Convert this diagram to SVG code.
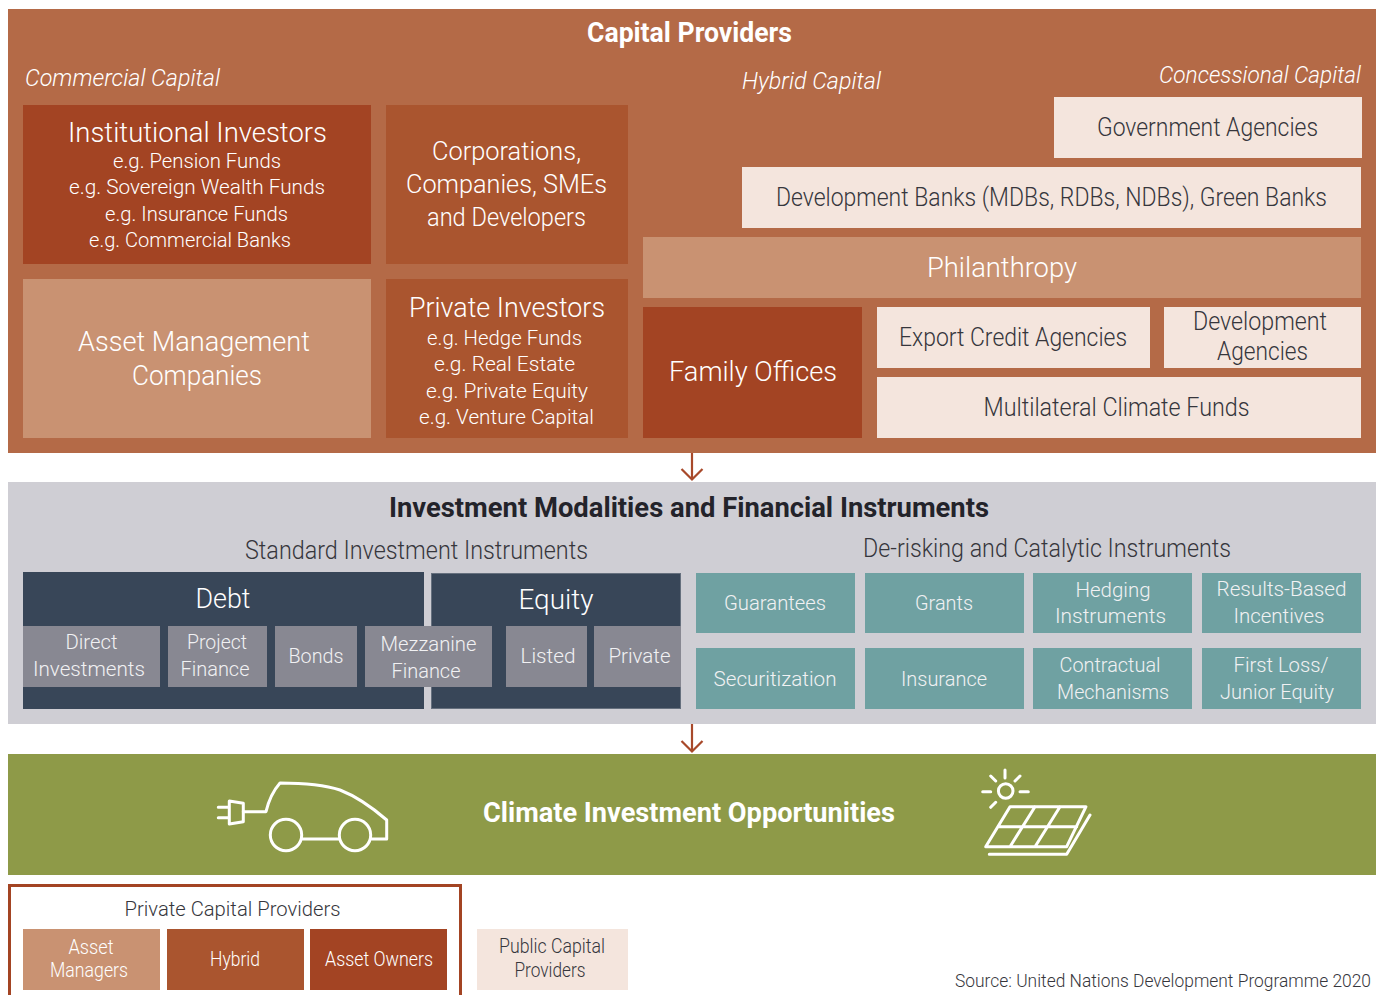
<svg xmlns="http://www.w3.org/2000/svg" width="1377" height="995" viewBox="0 0 1377 995">
<style>
text{font-family:Roboto,"Liberation Sans",sans-serif;font-weight:300;text-anchor:middle;fill:#fff}
.t{font-weight:700;font-size:27px}
.i{font-style:italic;font-size:24px;text-anchor:start}
.l{font-size:27px}.m{font-size:25px}.s{font-size:21px}.xs{font-size:19.5px}
.src{font-size:18px}
.dk{fill:#36363c}.lt{fill:#f1f1f3}
.o{fill:#b46a47}.r1{fill:#a34423}.r2{fill:#aa552f}.r3{fill:#c99272}.p{fill:#f4e5dd}.g{fill:#888892}.n{fill:#384658}.tl{fill:#6fa1a2}
.ic{fill:none;stroke:#fff;stroke-width:3;stroke-linecap:round;stroke-linejoin:round}
.ar{fill:none;stroke:#a8492a;stroke-width:2.2}
</style>
<g id="capital-providers"><rect class="o" x="8" y="9" width="1368" height="444"/>
<text class="t" x="689.5" y="42" textLength="205" lengthAdjust="spacingAndGlyphs">Capital Providers</text>
<text class="i" x="25" y="86" textLength="195" lengthAdjust="spacingAndGlyphs">Commercial Capital</text>
<text class="i" x="742" y="89" textLength="139" lengthAdjust="spacingAndGlyphs">Hybrid Capital</text>
<text class="i" x="1159" y="83" textLength="202" lengthAdjust="spacingAndGlyphs">Concessional Capital</text></g>
<g id="institutional-investors"><rect class="r1" x="23" y="105" width="348" height="159"/>
<text class="l" x="197.5" y="142" textLength="259" lengthAdjust="spacingAndGlyphs">Institutional Investors</text>
<text class="s" x="197" y="168" textLength="168" lengthAdjust="spacingAndGlyphs">e.g. Pension Funds</text>
<text class="s" x="197" y="194" textLength="256" lengthAdjust="spacingAndGlyphs">e.g. Sovereign Wealth Funds</text>
<text class="s" x="196.5" y="221" textLength="183" lengthAdjust="spacingAndGlyphs">e.g. Insurance Funds</text>
<text class="s" x="190" y="247" textLength="202" lengthAdjust="spacingAndGlyphs">e.g. Commercial Banks</text></g>
<g id="corporations"><rect class="r2" x="386" y="105" width="242" height="159"/>
<text class="m" x="506.5" y="160" textLength="149" lengthAdjust="spacingAndGlyphs">Corporations,</text>
<text class="m" x="506.5" y="193" textLength="201" lengthAdjust="spacingAndGlyphs">Companies, SMEs</text>
<text class="m" x="506.5" y="226" textLength="159" lengthAdjust="spacingAndGlyphs">and Developers</text></g>
<g id="asset-management"><rect class="r3" x="23" y="279" width="348" height="159"/>
<text class="l" x="194" y="351" textLength="232" lengthAdjust="spacingAndGlyphs">Asset Management</text>
<text class="l" x="197" y="385" textLength="130" lengthAdjust="spacingAndGlyphs">Companies</text></g>
<g id="private-investors"><rect class="r2" x="386" y="279" width="242" height="159"/>
<text class="l" x="507" y="317" textLength="196" lengthAdjust="spacingAndGlyphs">Private Investors</text>
<text class="s" x="504.5" y="345" textLength="155" lengthAdjust="spacingAndGlyphs">e.g. Hedge Funds</text>
<text class="s" x="504.5" y="371" textLength="141" lengthAdjust="spacingAndGlyphs">e.g. Real Estate</text>
<text class="s" x="507" y="398" textLength="162" lengthAdjust="spacingAndGlyphs">e.g. Private Equity</text>
<text class="s" x="506.5" y="424" textLength="175" lengthAdjust="spacingAndGlyphs">e.g. Venture Capital</text></g>
<g id="government-agencies"><rect class="p" x="1054" y="97" width="308" height="61"/>
<text class="m dk" x="1207.5" y="136" textLength="221" lengthAdjust="spacingAndGlyphs">Government Agencies</text></g>
<g id="development-banks"><rect class="p" x="742" y="167" width="619" height="61"/>
<text class="m dk" x="1051.5" y="206" textLength="551" lengthAdjust="spacingAndGlyphs">Development Banks (MDBs, RDBs, NDBs), Green Banks</text></g>
<g id="philanthropy"><rect class="r3" x="643" y="237" width="718" height="61"/>
<text class="l" x="1002" y="277" textLength="150" lengthAdjust="spacingAndGlyphs">Philanthropy</text></g>
<g id="family-offices"><rect class="r1" x="643" y="307" width="219" height="131"/>
<text class="l" x="753" y="381" textLength="168" lengthAdjust="spacingAndGlyphs">Family Offices</text></g>
<g id="export-credit"><rect class="p" x="877" y="307" width="273" height="61"/>
<text class="m dk" x="1013" y="346" textLength="228" lengthAdjust="spacingAndGlyphs">Export Credit Agencies</text></g>
<g id="development-agencies"><rect class="p" x="1164" y="307" width="197" height="61"/>
<text class="m dk" x="1260" y="330" textLength="134" lengthAdjust="spacingAndGlyphs">Development</text>
<text class="m dk" x="1262.5" y="360" textLength="91" lengthAdjust="spacingAndGlyphs">Agencies</text></g>
<g id="multilateral"><rect class="p" x="877" y="377" width="484" height="61"/>
<text class="m dk" x="1116.5" y="416" textLength="266" lengthAdjust="spacingAndGlyphs">Multilateral Climate Funds</text></g>

<g id="investment-modalities"><rect x="8" y="482" width="1368" height="242" fill="#cfced4"/>
<text class="t dk" x="689" y="517" textLength="600" lengthAdjust="spacingAndGlyphs" style="fill:#23232a">Investment Modalities and Financial Instruments</text>
<text class="m dk" x="416.5" y="559" textLength="343" lengthAdjust="spacingAndGlyphs">Standard Investment Instruments</text>
<text class="m dk" x="1047" y="557" textLength="368" lengthAdjust="spacingAndGlyphs">De-risking and Catalytic Instruments</text></g>
<g id="debt"><rect class="n" x="23" y="572" width="401" height="137"/>
<text class="l" x="223" y="608" textLength="55" lengthAdjust="spacingAndGlyphs">Debt</text></g>
<g id="equity"><rect class="n" x="431.5" y="573.5" width="249" height="135" stroke="#66707e" stroke-width="1"/>
<text class="l" x="556" y="609" textLength="75" lengthAdjust="spacingAndGlyphs">Equity</text></g>
<g id="direct"><rect class="g" x="23" y="626" width="137" height="61"/>
<text class="s lt" x="91.5" y="649" textLength="52" lengthAdjust="spacingAndGlyphs">Direct</text>
<text class="s lt" x="89" y="676" textLength="112" lengthAdjust="spacingAndGlyphs">Investments</text></g>
<g id="project"><rect class="g" x="168" y="626" width="99" height="61"/>
<text class="s lt" x="217" y="649" textLength="60" lengthAdjust="spacingAndGlyphs">Project</text>
<text class="s lt" x="215" y="676" textLength="69" lengthAdjust="spacingAndGlyphs">Finance</text></g>
<g id="bonds"><rect class="g" x="275" y="626" width="82" height="61"/>
<text class="s lt" x="316" y="663" textLength="55" lengthAdjust="spacingAndGlyphs">Bonds</text></g>
<g id="mezzanine"><rect class="g" x="365" y="626" width="127" height="61"/>
<text class="s lt" x="428.5" y="651" textLength="96" lengthAdjust="spacingAndGlyphs">Mezzanine</text>
<text class="s lt" x="426" y="678" textLength="69" lengthAdjust="spacingAndGlyphs">Finance</text></g>
<g id="listed"><rect class="g" x="506" y="626" width="81" height="61"/>
<text class="s lt" x="548" y="663" textLength="55" lengthAdjust="spacingAndGlyphs">Listed</text></g>
<g id="private"><rect class="g" x="594" y="626" width="87" height="61"/>
<text class="s lt" x="639.5" y="663" textLength="62" lengthAdjust="spacingAndGlyphs">Private</text></g>
<g id="guarantees"><rect class="tl" x="696" y="573" width="159" height="60"/>
<text class="s lt" x="775" y="610" textLength="102" lengthAdjust="spacingAndGlyphs">Guarantees</text></g>
<g id="grants"><rect class="tl" x="865" y="573" width="159" height="60"/>
<text class="s lt" x="944" y="610" textLength="58" lengthAdjust="spacingAndGlyphs">Grants</text></g>
<g id="hedging"><rect class="tl" x="1033" y="573" width="159" height="60"/>
<text class="s lt" x="1113" y="597" textLength="75" lengthAdjust="spacingAndGlyphs">Hedging</text>
<text class="s lt" x="1110.5" y="623" textLength="111" lengthAdjust="spacingAndGlyphs">Instruments</text></g>
<g id="results"><rect class="tl" x="1202" y="573" width="159" height="60"/>
<text class="s lt" x="1281.5" y="596" textLength="130" lengthAdjust="spacingAndGlyphs">Results-Based</text>
<text class="s lt" x="1279" y="623" textLength="91" lengthAdjust="spacingAndGlyphs">Incentives</text></g>
<g id="securitization"><rect class="tl" x="696" y="648" width="159" height="61"/>
<text class="s lt" x="775" y="686" textLength="123" lengthAdjust="spacingAndGlyphs">Securitization</text></g>
<g id="insurance"><rect class="tl" x="865" y="648" width="159" height="61"/>
<text class="s lt" x="944" y="686" textLength="86" lengthAdjust="spacingAndGlyphs">Insurance</text></g>
<g id="contractual"><rect class="tl" x="1033" y="648" width="159" height="61"/>
<text class="s lt" x="1110" y="672" textLength="101" lengthAdjust="spacingAndGlyphs">Contractual</text>
<text class="s lt" x="1113" y="699" textLength="112" lengthAdjust="spacingAndGlyphs">Mechanisms</text></g>
<g id="first-loss"><rect class="tl" x="1202" y="648" width="159" height="61"/>
<text class="s lt" x="1281" y="672" textLength="95" lengthAdjust="spacingAndGlyphs">First Loss/</text>
<text class="s lt" x="1277" y="699" textLength="114" lengthAdjust="spacingAndGlyphs">Junior Equity</text></g>

<g id="climate-opportunities"><rect x="8" y="754" width="1368" height="121" fill="#8e9a48"/>
<text class="t" x="689" y="822" textLength="412" lengthAdjust="spacingAndGlyphs">Climate Investment Opportunities</text>
<g class="ic"><path d="M243.3 811.7H266C269 799 273 791 280 783C305 783 325 785 340 790C358 797 374 809 386.7 820V839H371.7M301.7 839H339.3"/>
<circle cx="286" cy="835" r="15.7"/><circle cx="355" cy="835" r="15.7"/>
<path d="M229.3 801L243.3 803.3V821.7L229.3 824ZM218.3 807.3H229.3M218.3 817.7H229.3"/></g>
<g class="ic"><circle cx="1005.7" cy="791" r="7.3"/>
<path d="M1005 770V778M982.7 791.7H990.7M1020 791.7H1028.3M990.7 776L995.7 781M1020 776L1015 781M995.7 802.3L990.7 807.3"/>
<path d="M1010 806.7H1086L1066.7 846.7H985.7ZM998.3 826.7H1076.7M1035 806.7L1010 846.7M1060 806.7L1035 846.7M989.3 854.3H1066.7L1090 815"/></g></g>

<g id="connectors">
<path class="ar" d="M692 453V479M681.5 469L692 479.5L702.5 469"/>
<path class="ar" d="M692 724V751M681.5 741L692 751.5L702.5 741"/>
</g>

<g id="legend-private"><rect x="9.5" y="885.5" width="451" height="130" fill="#fff" stroke="#a34423" stroke-width="3"/>
<text class="xs dk" x="232.5" y="916" textLength="216" lengthAdjust="spacingAndGlyphs">Private Capital Providers</text></g>
<g id="legend-asset-managers"><rect class="r3" x="23" y="929" width="137" height="61"/>
<text class="xs" x="91" y="954" textLength="45" lengthAdjust="spacingAndGlyphs">Asset</text>
<text class="xs" x="89" y="977" textLength="78" lengthAdjust="spacingAndGlyphs">Managers</text></g>
<g id="legend-hybrid"><rect class="r2" x="167" y="929" width="137" height="61"/>
<text class="xs" x="235" y="966" textLength="50" lengthAdjust="spacingAndGlyphs">Hybrid</text></g>
<g id="legend-asset-owners"><rect class="r1" x="310" y="929" width="137" height="61"/>
<text class="xs" x="379" y="966" textLength="108" lengthAdjust="spacingAndGlyphs">Asset Owners</text></g>
<g id="legend-public"><rect class="p" x="477" y="929" width="151" height="61"/>
<text class="xs dk" x="552" y="953" textLength="106" lengthAdjust="spacingAndGlyphs">Public Capital</text>
<text class="xs dk" x="550" y="977" textLength="71" lengthAdjust="spacingAndGlyphs">Providers</text></g>
<text class="src dk" x="1163" y="987" textLength="416" lengthAdjust="spacingAndGlyphs">Source: United Nations Development Programme 2020</text>
</svg>
